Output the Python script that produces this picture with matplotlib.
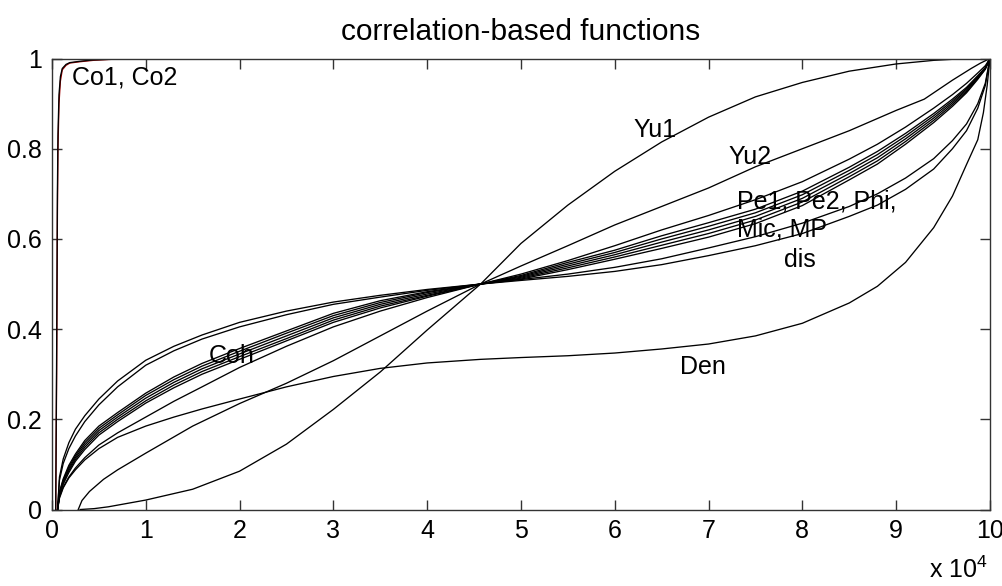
import matplotlib
matplotlib.use('Agg')  # no display in the sandbox
import matplotlib.pyplot as plt

plt.rcParams['font.family'] = ['Liberation Sans', 'DejaVu Sans']
plt.rcParams['mathtext.fontset'] = 'custom'
plt.rcParams['mathtext.rm'] = 'Liberation Sans'
plt.rcParams['mathtext.default'] = 'regular'

# x values are in units of 10^4 (as on the axis)
x_common = [0.06, 0.08, 0.12, 0.18, 0.25, 0.35, 0.5, 0.7, 1, 1.3, 1.6, 2, 2.5, 3, 3.5, 4,
            4.57, 5, 5.5, 6, 6.5, 7, 7.5, 8, 8.5, 8.8, 9.1, 9.4, 9.6, 9.75, 9.87, 9.95, 10]

# two curves on top at the left, lowest at the right (dis)
dis_a = [0, 0.072, 0.112, 0.148, 0.178, 0.208, 0.245, 0.285, 0.331, 0.362, 0.387, 0.415,
         0.44, 0.46, 0.475, 0.488, 0.5, 0.508, 0.517, 0.528, 0.543, 0.563, 0.585, 0.612,
         0.65, 0.675, 0.71, 0.755, 0.8, 0.84, 0.89, 0.94, 1.0]
dis_b = [0, 0.065, 0.102, 0.135, 0.163, 0.195, 0.232, 0.272, 0.32, 0.352, 0.378, 0.405,
         0.432, 0.455, 0.471, 0.486, 0.5, 0.51, 0.522, 0.537, 0.556, 0.58, 0.605, 0.635,
         0.672, 0.7, 0.735, 0.778, 0.818, 0.855, 0.9, 0.945, 1.0]

# main bundle: Pe1, Pe2, Phi, Mic, MP
pe1 = [0, 0.039, 0.068, 0.098, 0.123, 0.153, 0.185, 0.215, 0.258, 0.294, 0.324, 0.357,
       0.396, 0.435, 0.463, 0.483, 0.5, 0.511, 0.532, 0.555, 0.579, 0.604, 0.634, 0.674,
       0.731, 0.766, 0.81, 0.858, 0.894, 0.924, 0.954, 0.976, 1]
pe2 = [0, 0.037, 0.065, 0.094, 0.119, 0.148, 0.18, 0.21, 0.253, 0.288, 0.318, 0.351,
       0.391, 0.43, 0.459, 0.481, 0.5, 0.513, 0.536, 0.56, 0.586, 0.612, 0.642, 0.682,
       0.738, 0.773, 0.816, 0.863, 0.898, 0.927, 0.956, 0.977, 1]
phi = [0, 0.035, 0.062, 0.09, 0.115, 0.143, 0.175, 0.205, 0.247, 0.282, 0.312, 0.345,
       0.385, 0.425, 0.455, 0.478, 0.5, 0.515, 0.54, 0.565, 0.593, 0.62, 0.65, 0.69,
       0.745, 0.78, 0.822, 0.868, 0.902, 0.93, 0.958, 0.978, 1]
mic = [0, 0.033, 0.059, 0.086, 0.111, 0.138, 0.17, 0.2, 0.241, 0.276, 0.306, 0.339,
       0.379, 0.42, 0.451, 0.475, 0.5, 0.517, 0.544, 0.57, 0.6, 0.628, 0.658, 0.698,
       0.752, 0.787, 0.828, 0.873, 0.906, 0.933, 0.96, 0.979, 1]
mp = [0, 0.031, 0.056, 0.082, 0.107, 0.133, 0.165, 0.195, 0.236, 0.27, 0.3, 0.333,
      0.374, 0.415, 0.447, 0.473, 0.5, 0.519, 0.548, 0.575, 0.607, 0.636, 0.666, 0.706,
      0.759, 0.794, 0.834, 0.878, 0.91, 0.936, 0.962, 0.98, 1]
coh = [0, 0.028, 0.05, 0.072, 0.092, 0.115, 0.143, 0.17, 0.205, 0.24, 0.272, 0.315,
       0.362, 0.405, 0.44, 0.47, 0.5, 0.522, 0.552, 0.585, 0.62, 0.652, 0.687, 0.727,
       0.777, 0.81, 0.848, 0.89, 0.92, 0.945, 0.968, 0.984, 1]

x_den = [0.06, 0.08, 0.12, 0.18, 0.25, 0.35, 0.5, 0.7, 1, 1.3, 1.6, 2, 2.5, 3, 3.5, 4,
         4.57, 5, 5.5, 6, 6.5, 7, 7.5, 8, 8.5, 8.8, 9.1, 9.4, 9.6, 9.75, 9.87, 9.93, 9.97, 10]
den = [0, 0.025, 0.048, 0.07, 0.088, 0.11, 0.135, 0.16, 0.185, 0.205, 0.223, 0.245,
       0.272, 0.295, 0.313, 0.325, 0.333, 0.337, 0.341, 0.347, 0.356, 0.367, 0.385, 0.413,
       0.458, 0.495, 0.548, 0.625, 0.695, 0.765, 0.82, 0.88, 0.94, 1.0]

x_yu1 = [0.3, 0.45, 0.6, 1, 1.5, 2, 2.5, 3, 3.5, 4, 4.57, 5, 5.5, 6, 6.5, 7, 7.5, 8,
         8.5, 9, 9.4, 9.75, 10]
yu1 = [0, 0.002, 0.006, 0.021, 0.045, 0.085, 0.145, 0.222, 0.305, 0.398, 0.5, 0.59,
       0.675, 0.75, 0.815, 0.87, 0.915, 0.947, 0.972, 0.988, 0.996, 1, 1]

x_yu2 = [0.28, 0.32, 0.4, 0.55, 0.7, 1, 1.5, 2, 2.5, 3, 3.5, 4, 4.57, 5, 5.5, 6, 6.5, 7,
         7.5, 8, 8.5, 9, 9.3, 9.6, 9.8, 9.9, 10]
yu2 = [0, 0.02, 0.04, 0.067, 0.088, 0.125, 0.185, 0.235, 0.28, 0.33, 0.385, 0.44, 0.5,
       0.54, 0.585, 0.631, 0.672, 0.713, 0.76, 0.8, 0.84, 0.885, 0.91, 0.952, 0.978, 0.99, 1]

x_co = [0.04, 0.05, 0.058, 0.064, 0.075, 0.09, 0.11, 0.15, 0.19, 0.3, 0.44, 0.7, 1, 10]
co1 = [0, 0.3, 0.65, 0.8, 0.9, 0.95, 0.975, 0.985, 0.99, 0.993, 0.996, 0.999, 1, 1]
co2 = [0, 0.35, 0.7, 0.83, 0.92, 0.96, 0.978, 0.987, 0.991, 0.994, 0.997, 0.999, 1, 1]

x_ticks = [0, 1, 2, 3, 4, 5, 6, 7, 8, 9, 10]
y_ticks = [0, 0.2, 0.4, 0.6, 0.8, 1]
y_tick_labels = ['0', '0.2', '0.4', '0.6', '0.8', '1']

curve_labels = [
    ('Co1, Co2', 0.21, 0.957, 'left'),
    ('Yu1', 6.43, 0.841, 'center'),
    ('Yu2', 7.44, 0.782, 'center'),
    ('Pe1, Pe2, Phi,', 7.30, 0.682, 'left'),
    ('Mic, MP', 7.30, 0.622, 'left'),
    ('dis', 7.97, 0.553, 'center'),
    ('Coh', 1.92, 0.34, 'center'),
    ('Den', 6.94, 0.316, 'center'),
]

fig = plt.figure(figsize=(10.03, 5.86), dpi=100)
ax = fig.add_axes([0.0518, 0.1305, 0.9352, 0.7696])

lw = 0.95
for ys in [dis_a, dis_b, pe1, pe2, phi, mic, mp, coh]:
    ax.plot(x_common, ys, color='black', linewidth=lw)
ax.plot(x_den, den, color='black', linewidth=lw)
ax.plot(x_yu1, yu1, color='black', linewidth=lw)
ax.plot(x_yu2, yu2, color='black', linewidth=lw)
ax.plot(x_co, co1, color='#a00000', linewidth=lw)
ax.plot(x_co, co2, color='black', linewidth=lw)

for txt, tx, ty, ha in curve_labels:
    ax.text(tx, ty, txt, fontsize=18, ha=ha, va='center')

ax.set_xlim(0, 10)
ax.set_ylim(0, 1)
ax.set_xticks(x_ticks)
ax.set_xticklabels([str(t) for t in x_ticks])
ax.set_yticks(y_ticks)
ax.set_yticklabels(y_tick_labels)
ax.tick_params(direction='in', length=7, width=1, top=True, right=True,
               labelsize=18, pad=7, colors='#333333', labelcolor='black')
for sp in ax.spines.values():
    sp.set_color('#333333')
    sp.set_linewidth(1.0)

ax.set_title('correlation-based functions', fontsize=21.5, pad=13)
fig.text(0.985, 8 / 586, 'x 10$^4$', fontsize=18, ha='right', va='baseline')

fig.savefig('out.png', dpi=100)
